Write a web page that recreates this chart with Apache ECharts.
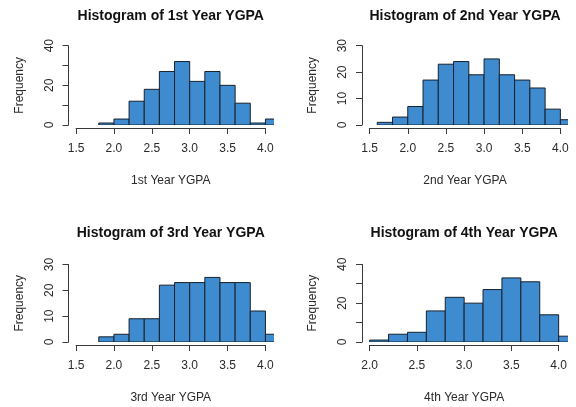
<!DOCTYPE html>
<html><head><meta charset="utf-8">
<script src="https://cdn.jsdelivr.net/npm/echarts@6/dist/echarts.min.js"></script>
<style>html,body{margin:0;padding:0;background:#fff}#c{width:576px;height:407px}</style>
</head><body><div id="c"></div>
<script>
// ---- data ----
const titles = ["Histogram of 1st Year YGPA", "Histogram of 2nd Year YGPA", "Histogram of 3rd Year YGPA", "Histogram of 4th Year YGPA"];
const xNames = ["1st Year YGPA", "2nd Year YGPA", "3rd Year YGPA", "4th Year YGPA"];
const yName = "Frequency";

const edges1 = [1.8, 2.0, 2.2, 2.4, 2.6, 2.8, 3.0, 3.2, 3.4, 3.6, 3.8, 4.0, 4.2];
const counts1 = [1, 3, 12, 18, 27, 32, 22, 27, 20, 11, 1, 3];

const edges2 = [1.6, 1.8, 2.0, 2.2, 2.4, 2.6, 2.8, 3.0, 3.2, 3.4, 3.6, 3.8, 4.0, 4.2];
const counts2 = [1, 3, 7, 17, 23, 24, 19, 25, 19, 17, 14, 6, 2];

const edges3 = [1.8, 2.0, 2.2, 2.4, 2.6, 2.8, 3.0, 3.2, 3.4, 3.6, 3.8, 4.0, 4.2];
const counts3 = [2, 3, 9, 9, 22, 23, 23, 25, 23, 23, 12, 3];

const edges4 = [2.0, 2.2, 2.4, 2.6, 2.8, 3.0, 3.2, 3.4, 3.6, 3.8, 4.0, 4.2];
const counts4 = [1, 4, 5, 16, 23, 20, 27, 33, 31, 14, 3];

// axis ranges / ticks
const xLim = [[1.4, 4.1], [1.4, 4.1], [1.4, 4.1], [1.92, 4.08]];
const xTickRange = [[1.5, 4.0], [1.5, 4.0], [1.5, 4.0], [2.0, 4.0]];
const yMax = [40, 30, 30, 40];
const yLabelStep = [20, 10, 10, 20];

// ---- layout (pixels) ----
const layout = [
  {left: 68.5, width: 204.5, top: 45.7, bottom0: 125},
  {left: 362, width: 206, top: 45.7, bottom0: 125},
  {left: 68.5, width: 204.5, top: 264.5, bottom0: 342},
  {left: 362.1, width: 204.1, top: 264.3, bottom0: 342}
];
const titleY = [16, 16, 233, 233];

const FONT = '"Liberation Sans", Arial, Helvetica, sans-serif';
const TXT = '#2a2a2a';
const AX = '#3a3a3a';

const edgesAll = [edges1, edges2, edges3, edges4];
const countsAll = [counts1, counts2, counts3, counts4];

const grid = [], xAxis = [], yAxis = [], series = [], graphic = [];
for (let p = 0; p < 4; p++) {
  const L = layout[p];
  const h = L.bottom0 - L.top;
  const ppu = L.width / (xLim[p][1] - xLim[p][0]);
  const dl = L.left + (xTickRange[p][0] - xLim[p][0]) * ppu;
  const dw = (xTickRange[p][1] - xTickRange[p][0]) * ppu;
  grid.push({left: L.left, top: L.top, width: L.width, height: h});
  grid.push({left: dl, top: L.top, width: dw, height: h});
  const gi = 2 * p;
  xAxis.push({gridIndex: gi, type: 'value', min: xLim[p][0], max: xLim[p][1], show: false});
  xAxis.push({
    gridIndex: gi + 1, type: 'value', min: xTickRange[p][0], max: xTickRange[p][1], interval: 0.5,
    offset: 3,
    axisLine: {show: true, onZero: false, lineStyle: {color: AX, width: 1}},
    axisTick: {show: true, length: 6, lineStyle: {color: AX}},
    axisLabel: {margin: 15, color: TXT, fontFamily: FONT, fontSize: 12, formatter: v => v.toFixed(1)},
    splitLine: {show: false},
    name: xNames[p], nameLocation: 'middle', nameGap: 47,
    nameTextStyle: {color: TXT, fontFamily: FONT, fontSize: 12}
  });
  const step = yLabelStep[p];
  yAxis.push({
    gridIndex: gi, type: 'value', min: 0, max: yMax[p], interval: 10,
    axisLine: {show: true, lineStyle: {color: AX, width: 1}},
    axisTick: {show: true, length: 6, lineStyle: {color: AX}},
    axisLabel: {rotate: 90, margin: 13, color: TXT, fontFamily: FONT, fontSize: 12,
      formatter: v => (v % step === 0 ? String(v) : '')},
    splitLine: {show: false},
    name: yName, nameLocation: 'middle', nameRotate: 90, nameGap: 43,
    nameTextStyle: {color: TXT, fontFamily: FONT, fontSize: 12}
  });
  yAxis.push({gridIndex: gi + 1, type: 'value', min: 0, max: 1, show: false});

  const e = edgesAll[p], c = countsAll[p];
  const data = c.map((v, i) => [e[i], e[i + 1], v]);
  series.push({
    type: 'custom', xAxisIndex: 2 * p, yAxisIndex: 2 * p, clip: true,
    data: data,
    encode: {x: [0, 1], y: 2},
    renderItem: function (params, api) {
      const a = api.coord([api.value(0), 0]);
      const b = api.coord([api.value(1), api.value(2)]);
      return {
        type: 'rect',
        shape: {x: a[0], y: b[1], width: b[0] - a[0], height: a[1] - b[1]},
        style: {fill: '#3f8bd0', stroke: '#16202b', lineWidth: 1}
      };
    }
  });

  graphic.push({
    type: 'text', x: L.left + L.width / 2, y: titleY[p],
    style: {text: titles[p], fill: '#111', font: 'bold 14px ' + FONT, align: 'center', verticalAlign: 'middle'}
  });
}

const chart = echarts.init(document.getElementById('c'), null, {renderer: 'canvas'});
chart.setOption({
  animation: false,
  backgroundColor: '#fff',
  grid, xAxis, yAxis, series, graphic
});
</script>
</body></html>
